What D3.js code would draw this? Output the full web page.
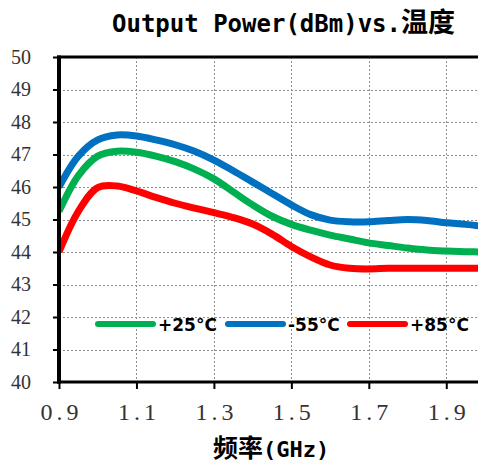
<!DOCTYPE html>
<html>
<head>
<meta charset="utf-8">
<script src="https://cdn.jsdelivr.net/npm/d3@7"></script>
<style>
  html, body { margin: 0; padding: 0; background: #fff; }
  svg { display: block; }
</style>
</head>
<body>
<svg id="chart" width="478" height="463"></svg>
<script>
// Frequency sample points (GHz)
const freqs = [0.9, 0.95, 1.0, 1.05, 1.1, 1.15, 1.2, 1.25, 1.3, 1.35, 1.4, 1.45,
               1.5, 1.55, 1.6, 1.65, 1.7, 1.75, 1.8, 1.85, 1.9, 1.95, 2.0];

// Output power (dBm) per temperature
const p25 = [45.25, 46.35, 46.95, 47.1, 47.07, 46.95, 46.78, 46.55, 46.25, 45.85, 45.45, 45.1,
             44.85, 44.67, 44.52, 44.4, 44.28, 44.2, 44.12, 44.06, 44.03, 44.01, 44.0];
const m55 = [46.0, 46.95, 47.45, 47.6, 47.57, 47.45, 47.3, 47.1, 46.83, 46.5, 46.15, 45.8,
             45.45, 45.15, 44.98, 44.93, 44.93, 44.97, 45.0, 44.97, 44.9, 44.85, 44.78];
const p85 = [44.0, 45.25, 45.98, 46.03, 45.88, 45.68, 45.5, 45.35, 45.21, 45.06, 44.86, 44.55,
             44.17, 43.85, 43.6, 43.5, 43.48, 43.5, 43.5, 43.5, 43.5, 43.5, 43.5];

const seriesNames = ["+25\u00B0C", "-55\u00B0C", "+85\u00B0C"];
const seriesColors = ["#00B050", "#0070C0", "#FF0000"];
const seriesValues = [p25, m55, p85];

const xTicks = [0.9, 1.1, 1.3, 1.5, 1.7, 1.9];
const yTicks = [40, 41, 42, 43, 44, 45, 46, 47, 48, 49, 50];

const svg = d3.select("#chart");
const plotL = 59, plotR = 485, plotT = 57, plotB = 382;

const x = d3.scaleLinear().domain([0.9, 2.0]).range([plotL, plotR]);
const y = d3.scaleLinear().domain([40, 50]).range([plotB, plotT]);

// Clip for plot content
svg.append("defs").append("clipPath").attr("id", "plotClip")
  .append("rect").attr("x", plotL).attr("y", plotT).attr("width", plotR - plotL).attr("height", plotB - plotT);

// Grid lines
const grid = svg.append("g").attr("stroke", "#8c8c8c").attr("stroke-width", 1)
  .attr("stroke-dasharray", "2,2").attr("shape-rendering", "crispEdges");
grid.selectAll("line.h").data(yTicks.filter(d => d > 40 && d < 50)).join("line")
  .attr("class", "h")
  .attr("x1", plotL).attr("x2", plotR)
  .attr("y1", d => Math.round(y(d)) + 0.5).attr("y2", d => Math.round(y(d)) + 0.5);
grid.selectAll("line.v").data(xTicks.filter(d => d > 0.9)).join("line")
  .attr("class", "v")
  .attr("y1", plotT).attr("y2", plotB)
  .attr("x1", d => Math.round(x(d)) + 0.5).attr("x2", d => Math.round(x(d)) + 0.5);

// Series lines
const line = d3.line().x((d, i) => x(freqs[i])).y(d => y(d)).curve(d3.curveCatmullRom.alpha(0.5));
const lines = svg.append("g").attr("clip-path", "url(#plotClip)");
// draw order: green, red, blue
[0, 2, 1].forEach(k => {
  lines.append("path")
    .datum(seriesValues[k])
    .attr("fill", "none")
    .attr("stroke", seriesColors[k])
    .attr("stroke-width", 7)
    .attr("stroke-linejoin", "round")
    .attr("d", line);
});

// Axes
const yAxis = svg.append("g")
  .attr("transform", `translate(${plotL},0)`)
  .call(d3.axisLeft(y).tickValues(yTicks).tickSize(6).tickPadding(22).tickFormat(d3.format("d")));
yAxis.select(".domain").remove();
yAxis.selectAll(".tick line").attr("stroke", "#000").attr("stroke-width", 2);
yAxis.selectAll(".tick text")
  .attr("font-family", "'Liberation Serif', 'DejaVu Serif', serif")
  .attr("font-size", 20).attr("fill", "#333");

const xAxis = svg.append("g")
  .attr("transform", `translate(0,${plotB})`)
  .call(d3.axisBottom(x).tickValues(xTicks).tickSize(7).tickPadding(14).tickFormat(d3.format(".1f")));
xAxis.select(".domain").remove();
xAxis.selectAll(".tick line").attr("stroke", "#000").attr("stroke-width", 2);
xAxis.selectAll(".tick text")
  .attr("font-family", "'Liberation Serif', 'DejaVu Serif', serif")
  .attr("font-size", 24).attr("fill", "#333")
  .style("letter-spacing", "4px").attr("dx", 2);

// Plot frame: left, top, bottom
svg.append("line").attr("x1", plotL).attr("x2", plotL).attr("y1", plotT - 1.5).attr("y2", plotB + 1.5)
  .attr("stroke", "#000").attr("stroke-width", 4);
svg.append("line").attr("x1", plotL - 2).attr("x2", 478).attr("y1", plotT).attr("y2", plotT)
  .attr("stroke", "#000").attr("stroke-width", 3);
svg.append("line").attr("x1", plotL - 2).attr("x2", 478).attr("y1", plotB).attr("y2", plotB)
  .attr("stroke", "#000").attr("stroke-width", 3);

// Title
const title = svg.append("text").attr("x", 112).attr("y", 32).attr("fill", "#000").attr("font-weight", "bold");
title.append("tspan").attr("font-family", "'DejaVu Sans Mono', monospace").attr("font-size", 24)
  .text("Output Power(dBm)vs.");
title.append("tspan").attr("font-family", "'Noto Sans CJK SC', sans-serif").attr("font-size", 27)
  .attr("dx", 0).text("温度");

// X axis title
const xt = svg.append("text").attr("x", 213).attr("y", 457).attr("fill", "#000").attr("font-weight", "bold");
xt.append("tspan").attr("font-family", "'Noto Sans CJK SC', sans-serif").attr("font-size", 25).text("频率");
xt.append("tspan").attr("font-family", "'DejaVu Sans Mono', monospace").attr("font-size", 22).text("(GHz)");

// Legend
const legendX = [98, 228, 350];
const legend = svg.append("g");
seriesNames.forEach((name, k) => {
  legend.append("line")
    .attr("x1", legendX[k]).attr("x2", legendX[k] + 55)
    .attr("y1", 324).attr("y2", 324)
    .attr("stroke", seriesColors[k]).attr("stroke-width", 6).attr("stroke-linecap", "round");
  legend.append("text")
    .attr("x", legendX[k] + 60).attr("y", 331)
    .attr("font-family", "'DejaVu Sans', sans-serif").attr("font-weight", "bold")
    .attr("font-size", 17).attr("fill", "#000")
    .text(name);
});
</script>
</body>
</html>
